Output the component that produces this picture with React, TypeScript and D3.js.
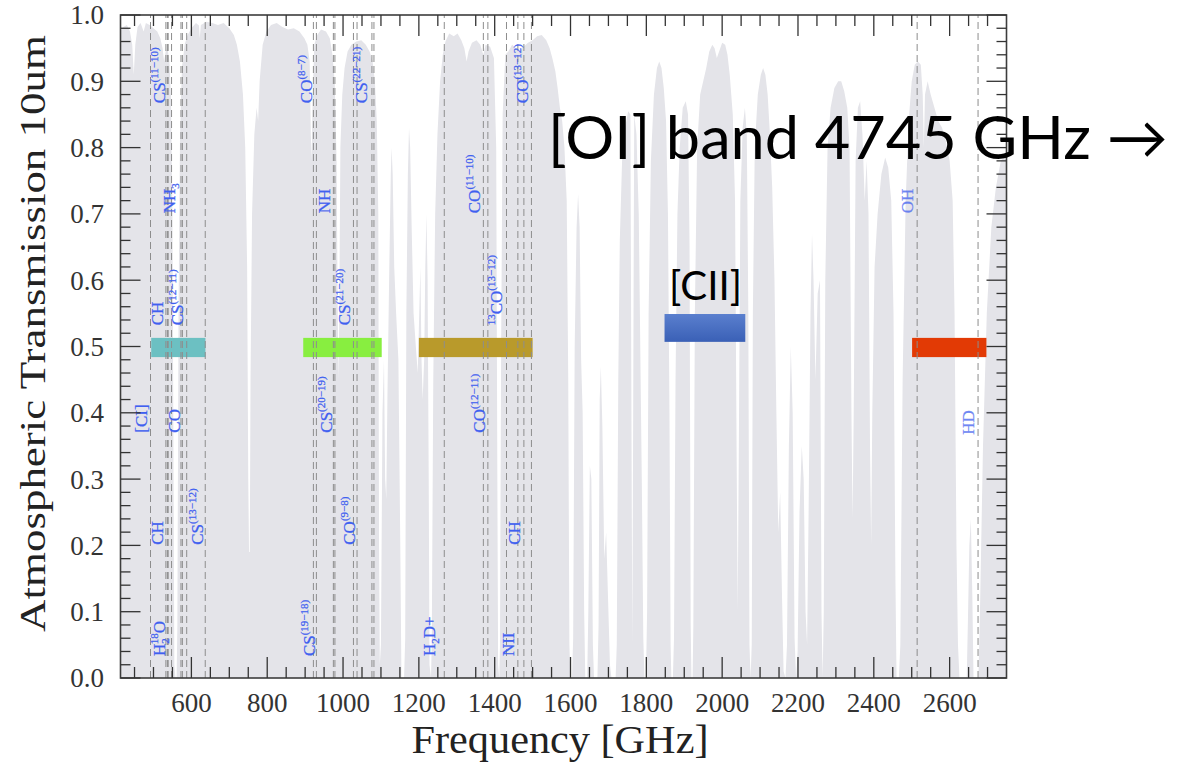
import React from 'react';
import * as d3 from 'd3';

// ---------- data ----------
const freqGHz: number[] = [
  412, 420, 430, 438, 444, 448, 452, 458, 466, 474, 480, 490, 500, 510, 518, 524, 528, 532, 537, 542, 546, 550, 553, 555, 558, 561, 563, 566, 570, 575, 582, 590, 600, 612, 620, 622, 625, 640,
  655, 670, 685, 700, 712, 720, 728, 736, 742, 747, 750, 752, 754, 756, 760, 766, 772, 776, 780, 788, 798, 810, 825, 840, 855, 870, 885, 898,
  906, 912, 915, 917, 919, 924, 932, 942, 955, 965, 972, 978, 983, 986, 988, 990, 993, 998, 1004, 1012, 1022, 1035, 1048, 1060, 1070, 1078, 1084, 1089, 1093, 1095, 1097, 1100,
  1104, 1108, 1111, 1114, 1117, 1122, 1126, 1128, 1131, 1135, 1140, 1146, 1151, 1154, 1161, 1164, 1167, 1171, 1174, 1177, 1181, 1186, 1192, 1197, 1201, 1204, 1207, 1210, 1214, 1217, 1220, 1223, 1226, 1228, 1232, 1234, 1238, 1243, 1249, 1256, 1263, 1270,
  1280, 1292, 1302, 1312, 1320, 1326, 1331, 1340, 1352, 1362, 1370, 1376, 1388, 1398, 1404, 1407, 1409, 1412, 1414, 1417, 1421, 1428, 1436, 1446, 1456, 1466, 1476, 1488, 1500, 1512, 1524,
  1536, 1545, 1552, 1560, 1566, 1572, 1578, 1584, 1590, 1594, 1597, 1600, 1604, 1607, 1611, 1616, 1620, 1624, 1628, 1632, 1636, 1639, 1644, 1647, 1651, 1655, 1659, 1662, 1671, 1674, 1677, 1680, 1684, 1689, 1694, 1699, 1704, 1708, 1719, 1722, 1726,
  1730, 1736, 1744, 1752, 1758, 1761, 1763, 1765, 1768, 1774, 1780, 1785, 1788, 1792, 1795, 1799, 1802, 1806, 1812, 1820, 1828, 1834, 1840, 1846, 1852, 1857, 1861, 1864, 1866, 1870, 1873, 1877, 1882, 1888, 1896, 1904, 1910, 1914, 1917, 1919, 1922, 1924, 1928, 1934, 1942, 1950, 1958, 1966, 1974, 1980, 1986, 1992, 2000, 2008, 2014, 2020, 2028, 2034, 2038, 2041, 2044, 2048, 2054, 2060, 2065, 2069, 2072, 2075, 2078, 2081, 2086, 2094, 2102, 2108, 2114, 2120, 2126, 2132, 2138,
  2143, 2148, 2153, 2158, 2162, 2167, 2171, 2176, 2181, 2186, 2191, 2195, 2199, 2204, 2210, 2215, 2220, 2224, 2228, 2233, 2237, 2241, 2246, 2252, 2258, 2262, 2265, 2268, 2272, 2278, 2286, 2296, 2306, 2314, 2322, 2330, 2336, 2341, 2344, 2347, 2352, 2358, 2364, 2370, 2376, 2381, 2386, 2390, 2393, 2396, 2402, 2410, 2420, 2430, 2438, 2446, 2452, 2457, 2460, 2466, 2470, 2476, 2484, 2492, 2500, 2508, 2516, 2524, 2529, 2532, 2535, 2542, 2550, 2560, 2570, 2580, 2590, 2600, 2608, 2613, 2618, 2622, 2626, 2645, 2648, 2652, 2656, 2660, 2663, 2676, 2680, 2688, 2698, 2710, 2722, 2735, 2750,
];

const transmission: number[] = [
  0.975, 0.982, 0.985, 0.975, 0.955, 0.91, 0.955, 0.982, 0.988, 0.975, 0.988, 0.985, 0.98, 0.975, 0.965, 0.95, 0.93, 0.945, 0.95, 0.93, 0.88, 0.70, 0.30, 0.02, 0, 0, 0.08, 0.55, 0.82, 0.92, 0.955, 0.97, 0.98, 0.988, 0.984, 0.965, 0.985, 0.99,
  0.988, 0.985, 0.988, 0.98, 0.97, 0.955, 0.93, 0.88, 0.80, 0.62, 0.30, 0.19, 0.19, 0.45, 0.70, 0.82, 0.86, 0.84, 0.90, 0.955, 0.975, 0.985, 0.988, 0.982, 0.978, 0.98, 0.975, 0.965,
  0.955, 0.93, 0.82, 0.78, 0.85, 0.955, 0.97, 0.978, 0.975, 0.965, 0.94, 0.90, 0.78, 0.55, 0.45, 0.55, 0.80, 0.88, 0.92, 0.945, 0.955, 0.96, 0.962, 0.955, 0.945, 0.93, 0.90, 0.84, 0.70, 0.20, 0.02, 0.05,
  0.40, 0.48, 0.30, 0.27, 0.42, 0.62, 0.76, 0.80, 0.76, 0.62, 0.55, 0.48, 0.20, 0, 0, 0.06, 0.55, 0.76, 0.83, 0.80, 0.68, 0.55, 0.50, 0.46, 0.55, 0.62, 0.48, 0.42, 0.48, 0.62, 0.70, 0.60, 0.30, 0.02, 0, 0.05, 0.45, 0.70, 0.82, 0.90, 0.94, 0.96,
  0.972, 0.968, 0.972, 0.962, 0.95, 0.93, 0.945, 0.958, 0.962, 0.955, 0.94, 0.955, 0.952, 0.935, 0.80, 0.30, 0.02, 0, 0.05, 0.50, 0.85, 0.94, 0.945, 0.955, 0.95, 0.945, 0.952, 0.958, 0.962, 0.968, 0.97,
  0.962, 0.95, 0.935, 0.915, 0.89, 0.86, 0.84, 0.80, 0.72, 0.45, 0.05, 0, 0, 0.06, 0.50, 0.68, 0.73, 0.68, 0.48, 0.40, 0.10, 0, 0, 0.10, 0.32, 0.30, 0.05, 0, 0, 0.08, 0.42, 0.47, 0.38, 0.18, 0.22, 0.12, 0.02, 0, 0, 0.05, 0.45,
  0.66, 0.78, 0.83, 0.855, 0.85, 0.35, 0.05, 0.35, 0.85, 0.82, 0.70, 0.45, 0.30, 0.06, 0, 0, 0.10, 0.55, 0.78, 0.88, 0.92, 0.93, 0.92, 0.89, 0.84, 0.70, 0.40, 0.05, 0, 0, 0.06, 0.45, 0.70, 0.80, 0.86, 0.87, 0.85, 0.65, 0.08, 0, 0, 0.08, 0.55, 0.80, 0.88, 0.90, 0.92, 0.945, 0.955, 0.95, 0.935, 0.945, 0.958, 0.955, 0.94, 0.91, 0.85, 0.72, 0.35, 0.10, 0.35, 0.72, 0.83, 0.86, 0.82, 0.55, 0.05, 0, 0.05, 0.55, 0.80, 0.88, 0.91, 0.92, 0.91, 0.88, 0.82, 0.74, 0.60,
  0.40, 0.22, 0.28, 0.12, 0.01, 0, 0.05, 0.35, 0.50, 0.40, 0.06, 0, 0.04, 0.25, 0.35, 0.30, 0.10, 0.05, 0.25, 0.55, 0.67, 0.60, 0.45, 0.58, 0.60, 0.10, 0, 0.10, 0.60, 0.80, 0.86, 0.89, 0.90, 0.90, 0.885, 0.86, 0.80, 0.40, 0.24, 0.40, 0.78, 0.86, 0.87, 0.82, 0.72, 0.78, 0.70, 0.35, 0.20, 0.40, 0.62, 0.70, 0.76, 0.785, 0.77, 0.72, 0.55, 0.15, 0, 0, 0.05, 0.45, 0.72, 0.84, 0.90, 0.925, 0.93, 0.925, 0.88, 0.80, 0.88, 0.90, 0.88, 0.86, 0.84, 0.83, 0.81, 0.78, 0.72, 0.55, 0.20, 0.05, 0, 0, 0.08, 0.20, 0.24, 0.12, 0, 0, 0.10, 0.35, 0.55, 0.68, 0.74, 0.78, 0.79,
];

const xTickLabels: number[] = [600, 800, 1000, 1200, 1400, 1600, 1800, 2000, 2200, 2400, 2600];
const yTickValues: number[] = [0, 0.1, 0.2, 0.3, 0.4, 0.5, 0.6, 0.7, 0.8, 0.9, 1.0];
const yTickLabels: string[] = ['0.0', '0.1', '0.2', '0.3', '0.4', '0.5', '0.6', '0.7', '0.8', '0.9', '1.0'];

// molecular line frequencies (dashed markers)
const lineFreqs: number[] = [
  492.16, 532.72, 536.76, 538.69, 547.68, 572.5, 576.27, 587.62, 636.53,
  921.8, 929.72, 974.47, 978.56, 1027.43, 1036.91, 1076.21, 1081.5,
  1267.01, 1370.08, 1381.99, 1431.15, 1461.13, 1477.0, 1496.92,
  2514.3, 2674.99,
];

// instrument bands
const bandStart: number[] = [494, 895, 1200, 1848, 2501];
const bandEnd: number[] = [637, 1102, 1500, 2061, 2697];
const bandLow: number[] = [0.484, 0.484, 0.484, 0.507, 0.484];
const bandHigh: number[] = [0.513, 0.513, 0.513, 0.549, 0.513];
const bandFills: string[] = ['#6cc0c2', '#88ee40', '#b99a2b', 'url(#ciiGrad)', '#e23a05'];

// line labels: segments, anchor frequency (baseline), starting transmission level
type Seg = [string, string];
const labelSegments: Seg[][] = [
  [['n', 'CS'], ['sup', '(11−10)']],
  [['n', 'NH'], ['sub', '3']],
  [['n', 'CO'], ['sup', '(8−7)']],
  [['n', 'NH']],
  [['n', 'CS'], ['sup', '(22−21)']],
  [['n', 'CH']],
  [['n', 'CS'], ['sup', '(12−11)']],
  [['n', '[CI]']],
  [['n', 'CO']],
  [['n', 'CH']],
  [['n', 'CS'], ['sup', '(13−12)']],
  [['n', 'H'], ['sub', '2'], ['sup', '18'], ['n', 'O']],
  [['n', 'CS'], ['sup', '(19−18)']],
  [['n', 'CS'], ['sup', '(20−19)']],
  [['n', 'CS'], ['sup', '(21−20)']],
  [['n', 'CO'], ['sup', '(9−8)']],
  [['n', 'H'], ['sub', '2'], ['n', 'D+']],
  [['n', 'CO'], ['sup', '(12−11)']],
  [['sup', '13'], ['n', 'CO'], ['sup', '(13−12)']],
  [['n', 'CO'], ['sup', '(11−10)']],
  [['n', 'CO'], ['sup', '(13−12)']],
  [['n', 'NII']],
  [['n', 'CH']],
  [['n', 'OH']],
  [['n', 'HD']],
];
const labelFreq: number[] = [
  530, 557, 918, 966, 1063, 525, 578, 483, 570, 525, 631, 530, 926, 971, 1019, 1032, 1243, 1374, 1419, 1361, 1488, 1451, 1467, 2504, 2665,
];
const labelLevel: number[] = [
  0.867, 0.701, 0.867, 0.701, 0.867, 0.532, 0.532, 0.37, 0.37, 0.201, 0.201, 0.033, 0.033, 0.37, 0.532, 0.201, 0.033, 0.37, 0.532, 0.701, 0.867, 0.033, 0.201, 0.701, 0.367,
];

// ---------- layout ----------
const W = 1198;
const H = 762;
const PL = 120.5, PR = 1006.5, PT = 15, PB = 678;

const x = d3.scaleLinear().domain([413, 2750]).range([PL, PR]);
const y = d3.scaleLinear().domain([0, 1]).range([PB, PT]);

const SERIF = '"Liberation Serif", "Times New Roman", serif';
const LABEL_BLUE = '#3f60f0';

function LineLabel({ segs, f, t, faded }: { segs: Seg[]; f: number; t: number; faded: boolean }) {
  const main = 17;
  const small = 11;
  let cur = 0;
  let prevKind = '';
  const spans = segs.map((s, i) => {
    const [kind, txt] = s;
    const target = kind === 'sup' ? -7 : kind === 'sub' ? 4 : 0;
    const dy = target - cur;
    cur = target;
    const dx = kind === 'sup' && prevKind === 'sub' ? -6 : 0;
    prevKind = kind;
    return (
      <tspan key={i} dy={dy} dx={dx} fontSize={kind === 'n' ? main : small}>
        {txt}
      </tspan>
    );
  });
  return (
    <text
      transform={`translate(${x(f)},${y(t)}) rotate(-90)`}
      fontFamily={SERIF}
      fill={LABEL_BLUE}
      stroke={LABEL_BLUE}
      strokeWidth={0.25}
      opacity={faded ? 0.75 : 1}
    >
      {spans}
    </text>
  );
}

export default function App() {
  const pts = freqGHz.map((f, i) => [f, transmission[i]] as [number, number]);
  const area = d3
    .area<[number, number]>()
    .x((d) => x(d[0]))
    .y0(y(0))
    .y1((d) => y(d[1]))
    .curve(d3.curveLinear);

  const xMinor = d3.range(450, 2750, 50).filter((v) => v % 200 !== 0);
  const yMinor = d3.range(0, 51, 1).map((v) => v / 50).filter((v) => Math.round(v * 50) % 5 !== 0);

  return (
    <svg
      width={W}
      height={H}
      viewBox={`0 0 ${W} ${H}`}
      style={{ position: 'absolute', left: 0, top: 0, display: 'block', background: '#fff' }}
    >
      <defs>
        <clipPath id="plotClip">
          <rect x={PL} y={PT} width={PR - PL} height={PB - PT} />
        </clipPath>
        <linearGradient id="ciiGrad" x1="0" y1="0" x2="0" y2="1">
          <stop offset="0" stopColor="#5a7fce" />
          <stop offset="1" stopColor="#3a60b6" />
        </linearGradient>
      </defs>
      <rect x={0} y={0} width={W} height={H} fill="#fff" />

      <g clipPath="url(#plotClip)">
        <path d={area(pts) || ''} fill="#e4e4e9" stroke="none" />
        {bandStart.map((b, i) => (
          <rect
            key={'band' + i}
            x={x(b)}
            y={y(bandHigh[i])}
            width={x(bandEnd[i]) - x(b)}
            height={y(bandLow[i]) - y(bandHigh[i])}
            fill={bandFills[i]}
          />
        ))}
        {lineFreqs.map((f, i) => (
          <line
            key={'ln' + i}
            x1={x(f)}
            x2={x(f)}
            y1={y(0)}
            y2={y(1)}
            stroke="#8d8d8d"
            strokeWidth={1}
            strokeDasharray="7,4"
          />
        ))}
      </g>

      {labelSegments.map((segs, i) => (
        <LineLabel key={'lab' + i} segs={segs} f={labelFreq[i]} t={labelLevel[i]} faded={i >= 23} />
      ))}

      {/* frame */}
      <rect x={PL} y={PT} width={PR - PL} height={PB - PT} fill="none" stroke="#3d3d3d" strokeWidth={1.6} />

      {/* ticks */}
      <g stroke="#333" strokeWidth={1.3}>
        {xTickLabels.map((v) => (
          <g key={'xM' + v}>
            <line x1={x(v)} x2={x(v)} y1={PB} y2={PB - 21} />
            <line x1={x(v)} x2={x(v)} y1={PT} y2={PT + 21} />
          </g>
        ))}
        {xMinor.map((v) => (
          <g key={'xm' + v}>
            <line x1={x(v)} x2={x(v)} y1={PB} y2={PB - 11} />
            <line x1={x(v)} x2={x(v)} y1={PT} y2={PT + 11} />
          </g>
        ))}
        {yTickValues.map((v) => (
          <g key={'yM' + v}>
            <line x1={PL} x2={PL + 20} y1={y(v)} y2={y(v)} />
            <line x1={PR} x2={PR - 20} y1={y(v)} y2={y(v)} />
          </g>
        ))}
        {yMinor.map((v) => (
          <g key={'ym' + v}>
            <line x1={PL} x2={PL + 10} y1={y(v)} y2={y(v)} />
            <line x1={PR} x2={PR - 10} y1={y(v)} y2={y(v)} />
          </g>
        ))}
      </g>

      {/* tick labels */}
      <g fontFamily={SERIF} fontSize={27} fill="#333">
        {xTickLabels.map((v) => (
          <text key={'xl' + v} x={x(v)} y={712} textAnchor="middle">
            {v}
          </text>
        ))}
        {yTickValues.map((v, i) => (
          <text key={'yl' + v} x={104} y={y(v)} dy="0.35em" textAnchor="end">
            {yTickLabels[i]}
          </text>
        ))}
      </g>

      {/* axis titles */}
      <text
        x={560}
        y={753}
        fontFamily={SERIF}
        fontSize={40}
        fill="#222"
        textAnchor="middle"
        textLength={297}
        lengthAdjust="spacingAndGlyphs"
      >
        Frequency [GHz]
      </text>
      <text
        transform={`translate(45,333.5) rotate(-90)`}
        fontFamily={SERIF}
        fontSize={35}
        fill="#222"
        textAnchor="middle"
        textLength={597}
        lengthAdjust="spacingAndGlyphs"
      >
        Atmospheric Transmission 10um
      </text>

      {/* annotations */}
      <text
        x={548}
        y={159}
        fontFamily='Lato, "Open Sans", sans-serif'
        fontWeight={400}
        fontSize={60}
        fill="#000"
        textLength={620}
        lengthAdjust="spacingAndGlyphs"
      >
        [OI] band 4745 GHz →
      </text>
      <text
        x={669}
        y={300}
        fontFamily='Lato, "Open Sans", sans-serif'
        fontWeight={400}
        fontSize={40}
        fill="#000"
        textLength={73}
        lengthAdjust="spacingAndGlyphs"
      >
        [CII]
      </text>
    </svg>
  );
}
